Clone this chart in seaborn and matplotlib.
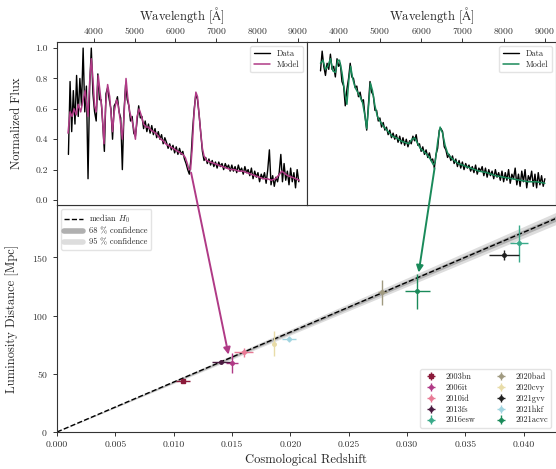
import numpy as np
import matplotlib.pyplot as plt
import seaborn as sns
from matplotlib.patches import ConnectionPatch
from matplotlib.lines import Line2D

# supernovae in the Hubble diagram
sn_names = ["2003bn", "2006it", "2010id", "2013fs", "2016esw",
            "2020bad", "2020cvy", "2021gvv", "2021hkf", "2021acvc"]
sn_z = [0.0108, 0.0150, 0.0160, 0.0141, 0.0396, 0.0279, 0.0186, 0.0383, 0.0199, 0.0309]
sn_z_err = [0.0006, 0.0005, 0.0008, 0.0008, 0.0008, 0.0004, 0.0002, 0.0013, 0.0006, 0.0011]
sn_d = [43.5, 59.5, 68.5, 60.5, 162.0, 120.0, 76.0, 152.0, 80.0, 121.0]
sn_d_err = [1.5, 8.5, 4.0, 1.5, 16.0, 11.0, 11.0, 4.5, 2.5, 15.0]
sn_colors = ["#8b1a3a", "#b03a86", "#e87a95", "#4a1a40", "#3aaa8a",
             "#a09a80", "#e8dca8", "#202020", "#a0d4e0", "#1a8a5a"]

# median H0 relation and confidence bands
line_z = [0.0, 0.045]
line_d = [0.0, 193.0]
band68 = [0.0, 2.5]
band95 = [0.0, 5.5]

# left spectrum (SN 2006it)
wave_a = np.arange(3380, 9030, 40)
flux_a = [
    0.30, 0.78, 0.45, 0.72, 0.50, 0.82, 0.55, 0.80, 0.62, 1.00,
    0.58, 0.75, 0.14, 0.75, 1.00, 0.70, 0.58, 0.52, 0.83, 0.66,
    0.66, 0.50, 0.32, 0.70, 0.74, 0.66, 0.60, 0.40, 0.62, 0.64,
    0.68, 0.58, 0.54, 0.20, 0.58, 0.76, 0.66, 0.62, 0.52, 0.55,
    0.44, 0.42, 0.52, 0.62, 0.54, 0.55, 0.47, 0.52, 0.45, 0.50,
    0.44, 0.49, 0.43, 0.47, 0.41, 0.45, 0.40, 0.43, 0.37, 0.41,
    0.38, 0.34, 0.37, 0.33, 0.36, 0.31, 0.35, 0.30, 0.34, 0.30,
    0.32, 0.27, 0.24, 0.20, 0.17, 0.27, 0.46, 0.60, 0.70, 0.66,
    0.56, 0.44, 0.32, 0.26, 0.28, 0.24, 0.27, 0.23, 0.26, 0.22,
    0.25, 0.21, 0.25, 0.22, 0.24, 0.20, 0.24, 0.21, 0.23, 0.19,
    0.23, 0.19, 0.22, 0.18, 0.23, 0.19, 0.21, 0.17, 0.22, 0.18,
    0.20, 0.16, 0.21, 0.14, 0.19, 0.15, 0.18, 0.12, 0.17, 0.14,
    0.18, 0.11, 0.20, 0.33, 0.10, 0.16, 0.09, 0.15, 0.12, 0.18,
    0.30, 0.12, 0.24, 0.13, 0.19, 0.10, 0.21, 0.12, 0.18, 0.08, 0.20, 0.12,
]
model_wave_a = [3370, 3420, 3470, 3520, 3570, 3620, 3680, 3740, 3790, 3830,
                3860, 3900, 3940, 3980, 4020, 4060, 4110, 4150, 4200, 4250,
                4290, 4340, 4390, 4430, 4460, 4500, 4560, 4600, 4650, 4700,
                4740, 4790, 4830, 4880, 4930, 4980, 5020, 5060, 5110, 5160,
                5220, 5280, 5340, 5400, 5460, 5520, 5580, 5640, 5700, 5760,
                5820, 5880, 5940, 6000, 6060, 6120, 6180, 6240, 6290, 6330,
                6370, 6410, 6450, 6500, 6540, 6580, 6620, 6660, 6700, 6760,
                6850, 6950, 7050, 7150, 7250, 7350, 7450, 7550, 7650, 7750,
                7850, 7950, 8050, 8150, 8250, 8350, 8450, 8550, 8600, 8650,
                8750, 8850, 8950, 9030]
model_flux_a = [0.44, 0.58, 0.55, 0.60, 0.56, 0.63, 0.58, 0.66, 0.72, 0.62,
                0.55, 0.78, 0.93, 0.80, 0.62, 0.58, 0.82, 0.72, 0.60, 0.37,
                0.62, 0.76, 0.68, 0.55, 0.45, 0.58, 0.66, 0.62, 0.52, 0.40,
                0.55, 0.80, 0.68, 0.58, 0.53, 0.47, 0.40, 0.55, 0.60, 0.56,
                0.50, 0.48, 0.48, 0.46, 0.45, 0.44, 0.42, 0.40, 0.39, 0.37,
                0.36, 0.35, 0.34, 0.33, 0.32, 0.31, 0.30, 0.28, 0.24, 0.20,
                0.20, 0.34, 0.55, 0.71, 0.68, 0.56, 0.44, 0.34, 0.29, 0.26,
                0.25, 0.24, 0.23, 0.22, 0.21, 0.20, 0.20, 0.19, 0.19, 0.18,
                0.17, 0.16, 0.15, 0.14, 0.14, 0.13, 0.14, 0.17, 0.19, 0.18,
                0.16, 0.15, 0.14, 0.13]

# right spectrum (SN 2021acvc)
wave_b = np.arange(3560, 9010, 40)
flux_b = [
    0.85, 0.98, 0.88, 0.82, 0.90, 0.86, 0.96, 0.86, 0.88, 0.81,
    0.93, 0.88, 0.90, 0.78, 0.75, 0.62, 0.73, 0.80, 0.90, 0.81,
    0.80, 0.74, 0.75, 0.68, 0.71, 0.65, 0.66, 0.55, 0.46, 0.62,
    0.78, 0.71, 0.69, 0.59, 0.59, 0.52, 0.54, 0.48, 0.51, 0.46,
    0.48, 0.43, 0.46, 0.41, 0.44, 0.40, 0.43, 0.38, 0.42, 0.37,
    0.41, 0.36, 0.40, 0.35, 0.39, 0.37, 0.42, 0.39, 0.43, 0.36,
    0.37, 0.32, 0.35, 0.30, 0.33, 0.28, 0.31, 0.26, 0.27, 0.21,
    0.30, 0.34, 0.46, 0.47, 0.45, 0.35, 0.33, 0.28, 0.30, 0.26,
    0.29, 0.24, 0.27, 0.22, 0.26, 0.21, 0.25, 0.20, 0.24, 0.21,
    0.23, 0.19, 0.22, 0.18, 0.23, 0.17, 0.21, 0.19, 0.22, 0.16,
    0.21, 0.15, 0.20, 0.16, 0.19, 0.14, 0.20, 0.15, 0.18, 0.13,
    0.19, 0.12, 0.18, 0.13, 0.20, 0.11, 0.17, 0.14, 0.21, 0.10,
    0.17, 0.09, 0.19, 0.12, 0.20, 0.08, 0.16, 0.13, 0.19, 0.09,
    0.17, 0.08, 0.18, 0.10, 0.16, 0.09, 0.14,
]
model_wave_b = [3560, 3620, 3680, 3740, 3800, 3860, 3920, 3980, 4020, 4080,
                4140, 4200, 4250, 4290, 4340, 4400, 4460, 4520, 4580, 4640,
                4680, 4720, 4770, 4820, 4880, 4940, 5000, 5100, 5200, 5300,
                5400, 5500, 5600, 5700, 5780, 5840, 5900, 5980, 6060, 6140,
                6220, 6300, 6340, 6400, 6460, 6520, 6580, 6640, 6720, 6800,
                6900, 7000, 7200, 7400, 7600, 7800, 8000, 8200, 8400, 8600,
                8800, 9000]
model_flux_b = [0.90, 0.92, 0.86, 0.88, 0.93, 0.85, 0.84, 0.92, 0.92, 0.84,
                0.72, 0.63, 0.80, 0.88, 0.80, 0.74, 0.71, 0.68, 0.64, 0.55,
                0.47, 0.60, 0.77, 0.72, 0.62, 0.55, 0.52, 0.48, 0.45, 0.42,
                0.41, 0.39, 0.38, 0.37, 0.40, 0.41, 0.38, 0.34, 0.32, 0.30,
                0.27, 0.23, 0.25, 0.38, 0.48, 0.44, 0.36, 0.31, 0.28, 0.26,
                0.24, 0.23, 0.21, 0.19, 0.18, 0.16, 0.15, 0.14, 0.13, 0.12,
                0.12, 0.11]

sns.set_style("ticks")
plt.rcParams["font.family"] = ["cmr10", "DejaVu Serif"]
plt.rcParams["mathtext.fontset"] = "cm"
plt.rcParams["axes.formatter.use_mathtext"] = True
plt.rcParams["axes.unicode_minus"] = False
plt.rcParams["axes.edgecolor"] = "#333333"
plt.rcParams["axes.linewidth"] = 0.8
plt.rcParams["xtick.color"] = "#333333"
plt.rcParams["ytick.color"] = "#333333"

fig = plt.figure(figsize=(5.56, 4.69), dpi=100)
ax = fig.add_axes([0.1025, 0.0789, 0.896, 0.484])
ax_a = fig.add_axes([0.1025, 0.5629, 0.4496, 0.3475])
ax_b = fig.add_axes([0.5522, 0.5629, 0.4478, 0.3475])

# Hubble diagram
lz = np.array(line_z)
ld = np.array(line_d)
b68 = np.array(band68)
b95 = np.array(band95)
ax.fill_between(lz, ld - b95, ld + b95, color="#dddddd", lw=0)
ax.fill_between(lz, ld - b68, ld + b68, color="#b0b0b0", lw=0)
sns.lineplot(x=lz, y=ld, ax=ax, color="black", lw=1.0, linestyle="--")

handles = []
for i, name in enumerate(sn_names):
    eb = ax.errorbar(sn_z[i], sn_d[i], xerr=sn_z_err[i], yerr=sn_d_err[i],
                     fmt="s" if i == 0 else "o", ms=2.5, color=sn_colors[i],
                     elinewidth=1.0, capsize=0, label=name)
    handles.append(eb)

ax.set_xlim(0, 0.0427)
ax.set_ylim(0, 195)
ax.set_xticks(np.arange(0, 0.0401, 0.005))
ax.set_xticklabels([f"{t:.3f}" for t in np.arange(0, 0.0401, 0.005)])
ax.set_yticks([0, 50, 100, 150])
ax.tick_params(labelsize=7, length=3, width=0.7)
ax.set_xlabel("Cosmological Redshift", fontsize=9, labelpad=3)
ax.set_ylabel("Luminosity Distance [Mpc]", fontsize=9, labelpad=9)
ax.spines["right"].set_visible(False)

band_handles = [
    Line2D([], [], color="black", lw=1.0, linestyle="--"),
    Line2D([], [], color="#b0b0b0", lw=4),
    Line2D([], [], color="#dddddd", lw=4),
]
leg1 = ax.legend(band_handles, ["median $H_0$", "68 % confidence", "95 % confidence"],
                 loc="upper left", fontsize=6, handlelength=2.2, frameon=True,
                 framealpha=0.8, edgecolor="#dddddd", labelspacing=0.3)
ax.add_artist(leg1)
ax.legend(handles=handles, loc="lower right", ncol=2, fontsize=6,
          handlelength=1.8, columnspacing=2.2, frameon=True, labelspacing=0.3,
          framealpha=0.8, edgecolor="#dddddd")

# spectra insets
for axi, wave, flux, mw, mf, col in [
    (ax_a, wave_a, flux_a, model_wave_a, model_flux_a, sn_colors[1]),
    (ax_b, wave_b, flux_b, model_wave_b, model_flux_b, sn_colors[9]),
]:
    sns.lineplot(x=wave, y=flux, ax=axi, color="black", lw=1.0, label="Data")
    sns.lineplot(x=mw, y=mf, ax=axi, color=col, lw=1.1, label="Model")
    axi.set_ylim(-0.033, 1.04)
    axi.xaxis.tick_top()
    axi.xaxis.set_label_position("top")
    axi.set_xticks([4000, 5000, 6000, 7000, 8000, 9000])
    axi.set_xlabel("Wavelength [$\\mathrm{\\AA}$]", fontsize=9, labelpad=3)
    axi.tick_params(labelsize=7, length=3, width=0.7)
    axi.tick_params(axis="x", pad=1.5)
    axi.set_ylabel("")
    axi.legend(loc="upper right", fontsize=6, handlelength=2.0, labelspacing=0.3,
               frameon=True, framealpha=0.8, edgecolor="#dddddd")

ax_a.set_xlim(3100, 9220)
ax_b.set_xlim(3233, 9270)
ax_a.set_yticks([0.0, 0.2, 0.4, 0.6, 0.8, 1.0])
ax_a.set_yticklabels([f"{t:.1f}" for t in [0.0, 0.2, 0.4, 0.6, 0.8, 1.0]])
ax_a.set_ylabel("Normalized Flux", fontsize=9, labelpad=9)
ax_b.set_yticks([0.0, 0.2, 0.4, 0.6, 0.8, 1.0])
ax_b.tick_params(axis="y", left=False, labelleft=False)

# arrows from spectra to their supernovae
con_a = ConnectionPatch(xyA=(6383, 0.18), coordsA="data", axesA=ax_a,
                        xyB=(sn_z[1] - 0.0003, sn_d[1] + 7), coordsB="data", axesB=ax,
                        arrowstyle="-|>", color=sn_colors[1], lw=1.4, mutation_scale=10)
con_b = ConnectionPatch(xyA=(6326, 0.21), coordsA="data", axesA=ax_b,
                        xyB=(sn_z[9] + 0.0001, sn_d[9] + 16), coordsB="data", axesB=ax,
                        arrowstyle="-|>", color=sn_colors[9], lw=1.4, mutation_scale=10)
fig.add_artist(con_a)
fig.add_artist(con_b)

fig.savefig("out.png", dpi=100)
